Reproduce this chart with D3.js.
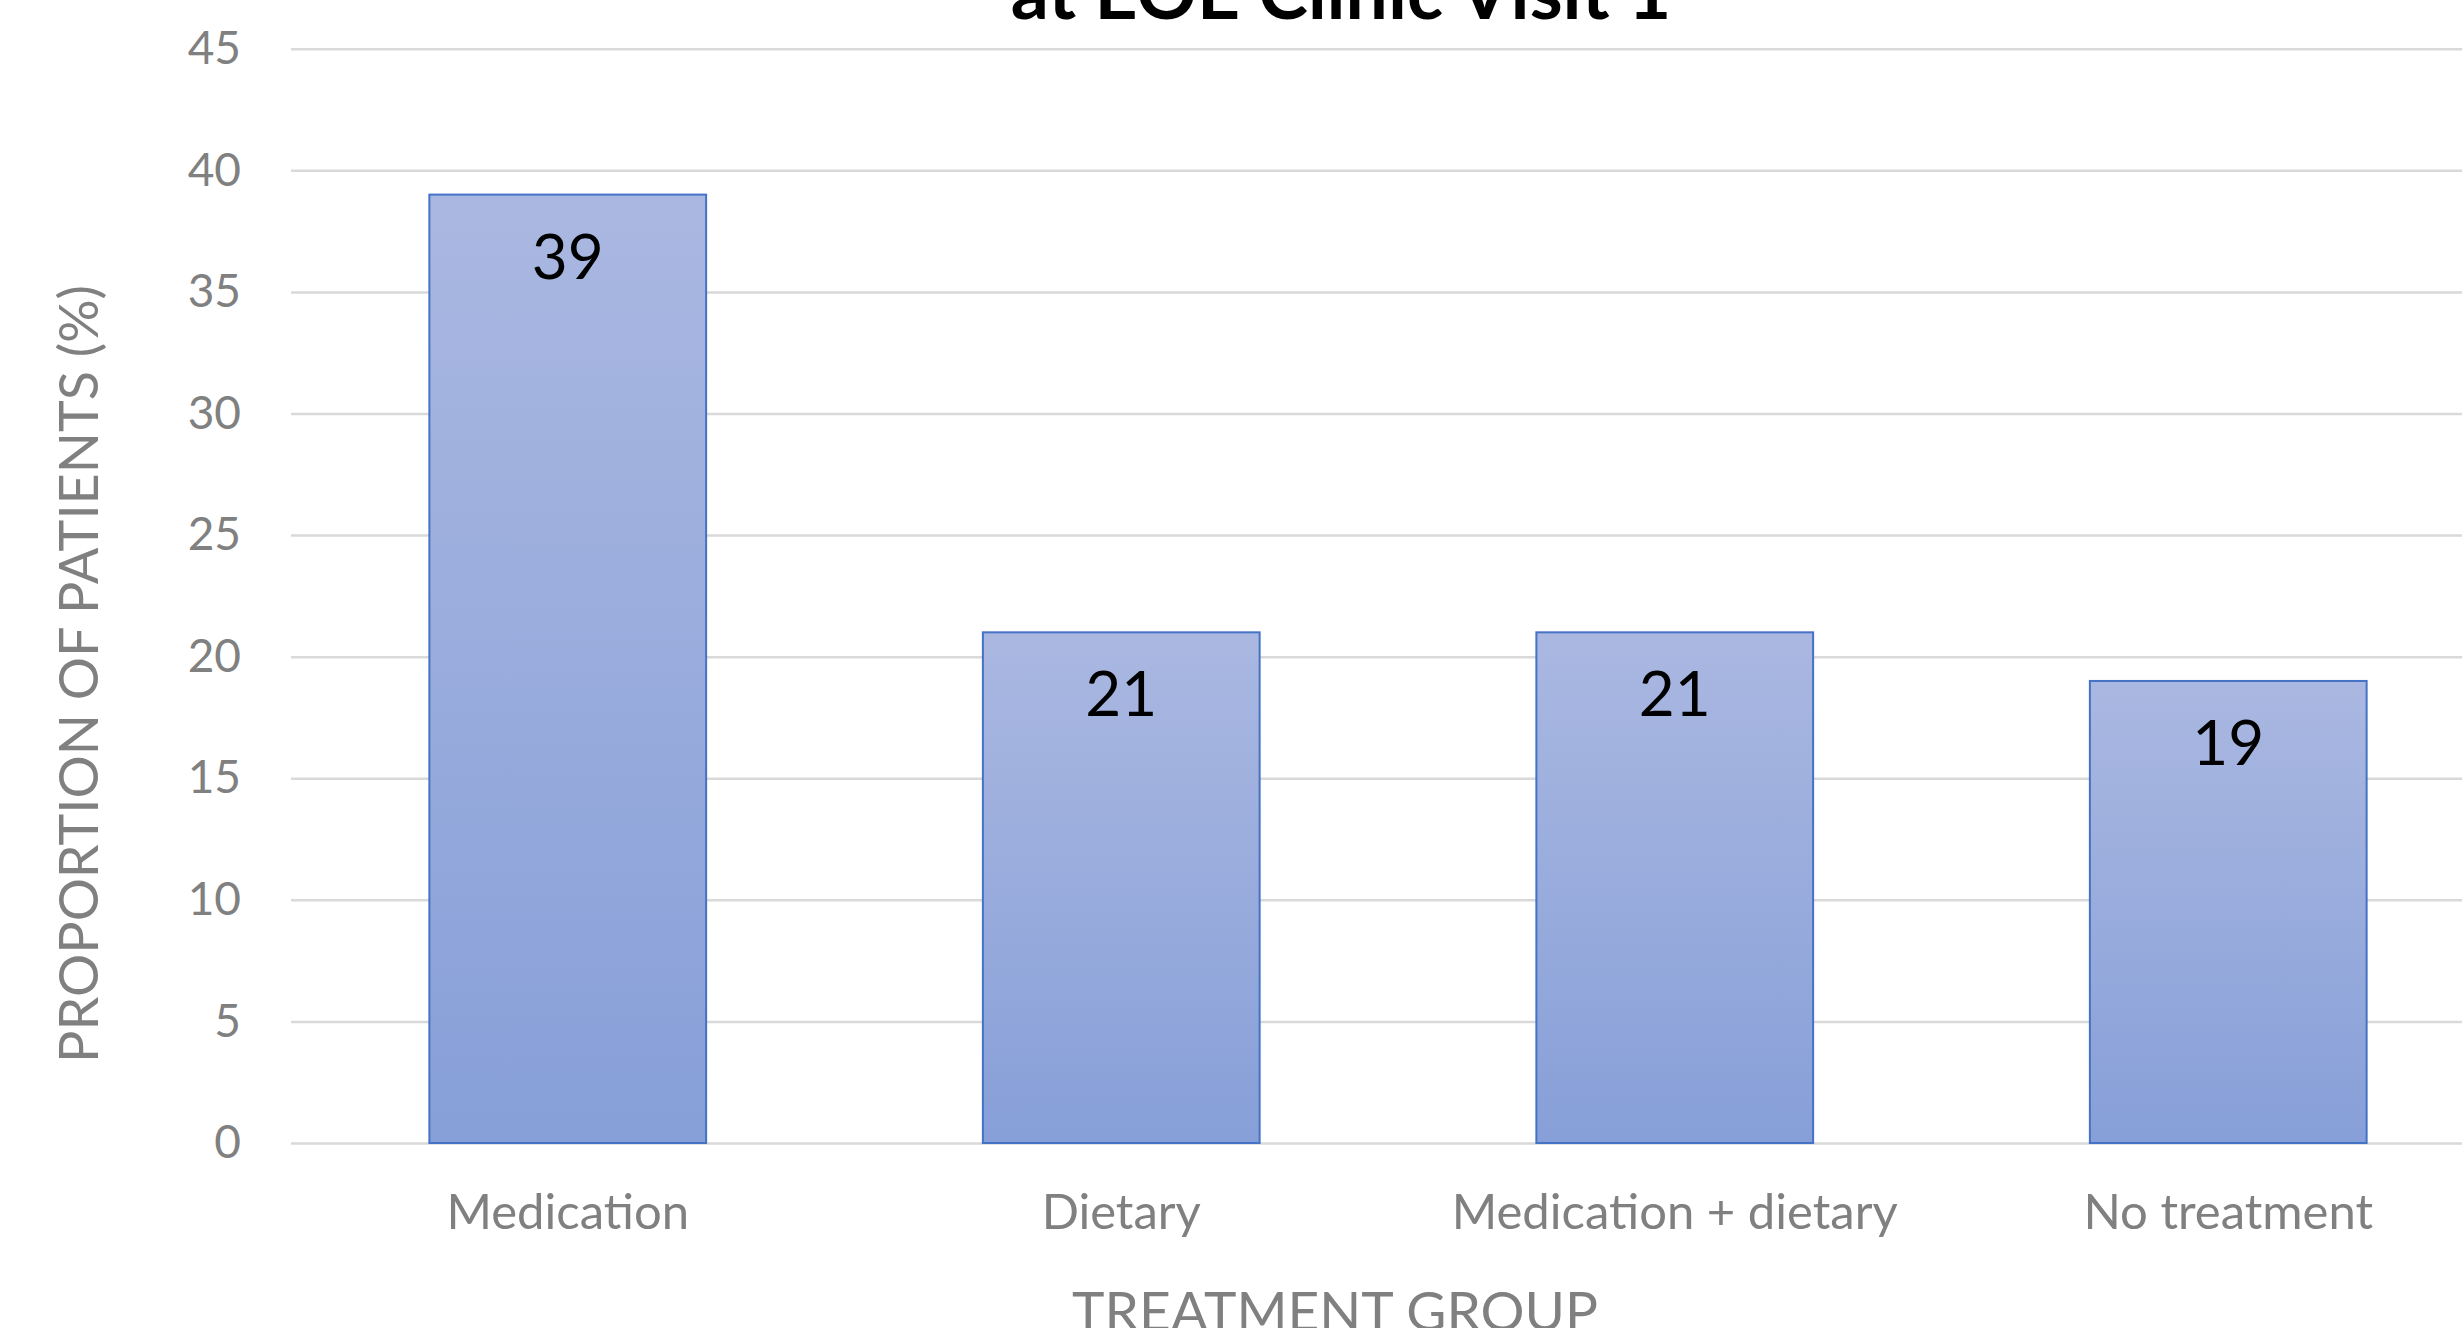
<!DOCTYPE html>
<html>
<head>
<meta charset="utf-8">
<script src="https://cdn.jsdelivr.net/npm/d3@7"></script>
<style>
  body { margin: 0; background: #fff; }
  svg { display: block; font-family: Lato, "Open Sans", sans-serif; }
</style>
</head>
<body>
<svg id="chart" width="2462" height="1328"></svg>
<script>
const categories = ['Medication', 'Dietary', 'Medication + dietary', 'No treatment']
const values = [39, 21, 21, 19]
const yTicks = [0, 5, 10, 15, 20, 25, 30, 35, 40, 45]
const titleLine = 'at EOE Clinic Visit 1'
const xLabel = 'TREATMENT GROUP'
const yLabel = 'PROPORTION OF PATIENTS (%)'

const data = categories.map((c, i) => ({ key: c, value: values[i] }))

const svg = d3.select('#chart')

// plot area runs a little past the right edge of the picture (cropped chart)
const plotLeft = 291, plotRight = 2505, plotTop = 48.7, plotBottom = 1143

const defs = svg.append('defs')
const grad = defs.append('linearGradient')
  .attr('id', 'barGrad')
  .attr('x1', 0).attr('y1', 0).attr('x2', 0).attr('y2', 1)
grad.append('stop').attr('offset', '0%').attr('stop-color', '#aab8e1')
grad.append('stop').attr('offset', '100%').attr('stop-color', '#879fd8')

const x = d3.scaleBand()
  .range([plotLeft, plotRight])
  .domain(categories)
  .paddingInner(0.5)
  .paddingOuter(0.25)

const y = d3.scaleLinear()
  .domain([0, 45])
  .range([plotBottom, plotTop])

// gridlines + tick labels
const yAxis = svg.append('g')
  .attr('transform', `translate(${plotLeft},0)`)
  .call(d3.axisLeft(y).tickValues(yTicks).tickSize(-(plotRight - plotLeft)).tickPadding(50))

yAxis.select('.domain').remove()
yAxis.selectAll('.tick line')
  .attr('stroke', '#d9d9d9')
  .attr('stroke-width', 2.5)
yAxis.selectAll('.tick text')
  .attr('fill', '#808080')
  .attr('font-size', '46px')
  .attr('font-family', 'Lato, sans-serif')

// bars
svg.selectAll('rect.bar')
  .data(data)
  .enter()
  .append('rect')
    .attr('class', 'bar')
    .attr('x', d => x(d.key))
    .attr('y', d => y(d.value))
    .attr('width', x.bandwidth())
    .attr('height', d => y(0) - y(d.value))
    .attr('fill', 'url(#barGrad)')
    .attr('stroke', '#4472c4')
    .attr('stroke-width', 2)

// value labels inside top of bars
svg.selectAll('text.val')
  .data(data)
  .enter()
  .append('text')
    .attr('class', 'val')
    .attr('x', d => x(d.key) + x.bandwidth() / 2)
    .attr('y', d => y(d.value) + 84)
    .attr('text-anchor', 'middle')
    .attr('font-size', '62px')
    .attr('fill', '#000')
    .text(d => d.value)

// category labels
const xAxis = svg.append('g')
  .attr('transform', `translate(0,${plotBottom})`)
  .call(d3.axisBottom(x).tickSize(0).tickPadding(0))
xAxis.select('.domain').remove()
xAxis.selectAll('.tick text')
  .attr('dy', null)
  .attr('y', 86)
  .attr('fill', '#808080')
  .attr('font-size', '49px')
  .attr('font-family', 'Lato, sans-serif')

// axis titles
svg.append('text')
  .attr('transform', 'translate(98,674)rotate(-90)')
  .attr('text-anchor', 'middle')
  .attr('font-size', '54px')
  .attr('fill', '#808080')
  .text(yLabel)

svg.append('text')
  .attr('x', 1335)
  .attr('y', 1331)
  .attr('text-anchor', 'middle')
  .attr('font-size', '55px')
  .attr('fill', '#808080')
  .text(xLabel)

// second line of the chart title, the first line is off the top
svg.append('text')
  .attr('x', 1341)
  .attr('y', 19)
  .attr('text-anchor', 'middle')
  .attr('font-size', '75px')
  .attr('font-weight', 'bold')
  .attr('fill', '#000')
  .text(titleLine)
</script>
</body>
</html>
